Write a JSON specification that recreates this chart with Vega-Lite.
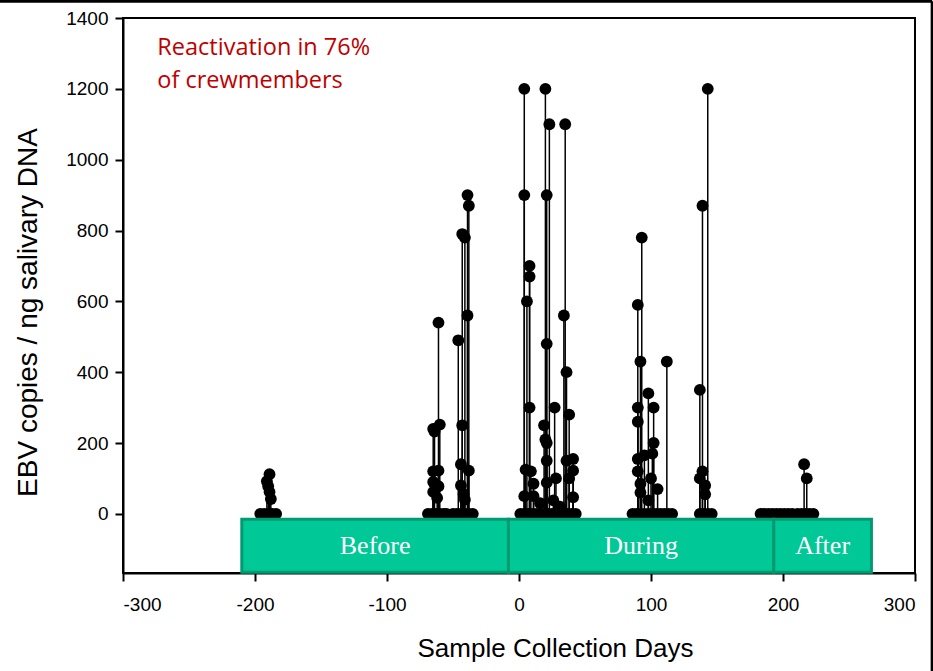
{
  "$schema": "https://vega.github.io/schema/vega-lite/v6.json",
  "width": 792,
  "height": 555,
  "autosize": "none",
  "padding": {"left": 123, "top": 18, "right": 18, "bottom": 98},
  "background": "white",
  "config": {
    "view": {"stroke": "black", "strokeWidth": 2},
    "axis": {
      "labelFont": "Liberation Sans",
      "titleFont": "Liberation Sans",
      "labelFontSize": 19,
      "titleFontWeight": "normal",
      "labelColor": "black",
      "titleColor": "black",
      "domainColor": "black",
      "domainWidth": 2,
      "tickColor": "black",
      "tickWidth": 2,
      "tickSize": 8,
      "grid": false,
      "labelExpr": "'' + datum.value"
    }
  },
  "datasets": {
    "pts": [
      {"day": -196, "val": 0}, {"day": -193, "val": 0}, {"day": -190, "val": 0}, {"day": -187, "val": 0}, {"day": -184, "val": 0},
      {"day": -189, "val": 112}, {"day": -191, "val": 92}, {"day": -190, "val": 78}, {"day": -189, "val": 62}, {"day": -188, "val": 42},
      {"day": -69, "val": 0}, {"day": -66, "val": 0}, {"day": -63, "val": 0}, {"day": -60, "val": 0}, {"day": -57, "val": 0}, {"day": -55, "val": 0},
      {"day": -61, "val": 540}, {"day": -60, "val": 252}, {"day": -65, "val": 240}, {"day": -64, "val": 232}, {"day": -65, "val": 120}, {"day": -61, "val": 122}, {"day": -65, "val": 90}, {"day": -61, "val": 78}, {"day": -65, "val": 62}, {"day": -62, "val": 45},
      {"day": -50, "val": 0}, {"day": -47, "val": 0}, {"day": -44, "val": 0}, {"day": -41, "val": 0}, {"day": -38, "val": 0}, {"day": -35, "val": 0},
      {"day": -39, "val": 900}, {"day": -38, "val": 870}, {"day": -43, "val": 790}, {"day": -41, "val": 780}, {"day": -39, "val": 560}, {"day": -46, "val": 490}, {"day": -43, "val": 250}, {"day": -44, "val": 140}, {"day": -38, "val": 122}, {"day": -44, "val": 80}, {"day": -42, "val": 56}, {"day": -41, "val": 40},
      {"day": 1, "val": 0}, {"day": 4, "val": 0}, {"day": 7, "val": 0}, {"day": 10, "val": 0}, {"day": 13, "val": 0}, {"day": 16, "val": 0}, {"day": 19, "val": 0}, {"day": 22, "val": 0}, {"day": 25, "val": 0}, {"day": 28, "val": 0}, {"day": 31, "val": 0}, {"day": 34, "val": 0}, {"day": 37, "val": 0}, {"day": 40, "val": 0}, {"day": 43, "val": 0},
      {"day": 4, "val": 1200}, {"day": 20, "val": 1200}, {"day": 23, "val": 1100}, {"day": 35, "val": 1100}, {"day": 4, "val": 900}, {"day": 21, "val": 900}, {"day": 8, "val": 700}, {"day": 8, "val": 670}, {"day": 6, "val": 600}, {"day": 34, "val": 560}, {"day": 21, "val": 480}, {"day": 36, "val": 400}, {"day": 8, "val": 300}, {"day": 27, "val": 300}, {"day": 38, "val": 280}, {"day": 19, "val": 250}, {"day": 20, "val": 210}, {"day": 21, "val": 200}, {"day": 21, "val": 150}, {"day": 36, "val": 150}, {"day": 41, "val": 155}, {"day": 5, "val": 125}, {"day": 9, "val": 120}, {"day": 41, "val": 122}, {"day": 11, "val": 85}, {"day": 21, "val": 88}, {"day": 28, "val": 100}, {"day": 38, "val": 100}, {"day": 4, "val": 50}, {"day": 11, "val": 50}, {"day": 41, "val": 47}, {"day": 26, "val": 38}, {"day": 31, "val": 20}, {"day": 16, "val": 30},
      {"day": 86, "val": 0}, {"day": 89, "val": 0}, {"day": 92, "val": 0}, {"day": 95, "val": 0}, {"day": 98, "val": 0}, {"day": 101, "val": 0}, {"day": 104, "val": 0}, {"day": 107, "val": 0}, {"day": 110, "val": 0}, {"day": 113, "val": 0}, {"day": 116, "val": 0},
      {"day": 93, "val": 780}, {"day": 90, "val": 590}, {"day": 92, "val": 430}, {"day": 112, "val": 430}, {"day": 98, "val": 340}, {"day": 102, "val": 300}, {"day": 90, "val": 300}, {"day": 90, "val": 260}, {"day": 102, "val": 200}, {"day": 101, "val": 170}, {"day": 90, "val": 155}, {"day": 95, "val": 165}, {"day": 90, "val": 120}, {"day": 92, "val": 85}, {"day": 100, "val": 100}, {"day": 105, "val": 70}, {"day": 92, "val": 60}, {"day": 98, "val": 38},
      {"day": 137, "val": 0}, {"day": 140, "val": 0}, {"day": 143, "val": 0}, {"day": 146, "val": 0},
      {"day": 143, "val": 1200}, {"day": 139, "val": 870}, {"day": 137, "val": 350}, {"day": 139, "val": 120}, {"day": 137, "val": 100}, {"day": 141, "val": 80}, {"day": 141, "val": 55},
      {"day": 183, "val": 0}, {"day": 186, "val": 0}, {"day": 189, "val": 0}, {"day": 192, "val": 0}, {"day": 195, "val": 0}, {"day": 198, "val": 0}, {"day": 201, "val": 0}, {"day": 204, "val": 0}, {"day": 207, "val": 0},
      {"day": 211, "val": 0}, {"day": 214, "val": 0}, {"day": 217, "val": 0}, {"day": 220, "val": 0}, {"day": 223, "val": 0},
      {"day": 216, "val": 140}, {"day": 218, "val": 100}
    ],
    "periods": [
      {"label": "Before", "start": -210, "end": -8},
      {"label": "During", "start": -8, "end": 193},
      {"label": "After", "start": 193, "end": 267}
    ],
    "note": [
      {"text": "Reactivation in 76%\nof crewmembers", "day": -274, "val": 1350}
    ],
    "frame": [
      {"x": -394, "x2": 313, "y": 1447, "y2": 1447},
      {"x": 313, "x2": 313, "y": 1447, "y2": -450}
    ]
  },
  "layer": [
    {
      "data": {"name": "pts"},
      "mark": {"type": "rule", "color": "black", "strokeWidth": 1.5},
      "encoding": {
        "x": {
          "field": "day", "type": "quantitative",
          "scale": {"domain": [-300, 300], "nice": false, "zero": false},
          "axis": {"values": [-300, -200, -100, 0, 100, 200, 300], "title": "Sample Collection Days", "titleFontSize": 26, "labelPadding": 14, "titlePadding": 21, "titleX": 432, "titleAnchor": null}
        },
        "y": {
          "field": "val", "type": "quantitative",
          "scale": {"domain": [-167, 1400], "nice": false, "zero": false},
          "axis": {"values": [0, 200, 400, 600, 800, 1000, 1200, 1400], "title": "EBV copies / ng salivary DNA", "titleFontSize": 28, "labelPadding": 7, "titlePadding": 23, "titleY": 294}
        },
        "y2": {"datum": 0}
      }
    },
    {
      "data": {"name": "pts"},
      "mark": {"type": "point", "shape": "circle", "filled": true, "color": "black", "opacity": 1, "size": 140},
      "encoding": {
        "x": {"field": "day", "type": "quantitative"},
        "y": {"field": "val", "type": "quantitative"}
      }
    },
    {
      "data": {"name": "periods"},
      "mark": {"type": "rect", "fill": "#00c897", "stroke": "#009a72", "strokeWidth": 3},
      "encoding": {
        "x": {"field": "start", "type": "quantitative"},
        "x2": {"field": "end"},
        "y": {"datum": -15},
        "y2": {"datum": -165}
      }
    },
    {
      "data": {"name": "periods"},
      "transform": [{"calculate": "(datum.start + datum.end) / 2", "as": "mid"}],
      "mark": {"type": "text", "font": "Liberation Serif", "fontSize": 26, "color": "white", "align": "center", "baseline": "middle"},
      "encoding": {
        "x": {"field": "mid", "type": "quantitative"},
        "y": {"datum": -90},
        "text": {"field": "label"}
      }
    },
    {
      "data": {"name": "note"},
      "mark": {"type": "text", "font": "Open Sans", "fontSize": 23.5, "color": "#c00000", "align": "left", "baseline": "top", "lineBreak": "\n", "lineHeight": 33},
      "encoding": {
        "x": {"field": "day", "type": "quantitative"},
        "y": {"field": "val", "type": "quantitative"},
        "text": {"field": "text"}
      }
    },
    {
      "data": {"name": "frame"},
      "mark": {"type": "rule", "color": "black", "strokeWidth": 3, "clip": false},
      "encoding": {
        "x": {"field": "x", "type": "quantitative"},
        "x2": {"field": "x2"},
        "y": {"field": "y", "type": "quantitative"},
        "y2": {"field": "y2"}
      }
    }
  ]
}
